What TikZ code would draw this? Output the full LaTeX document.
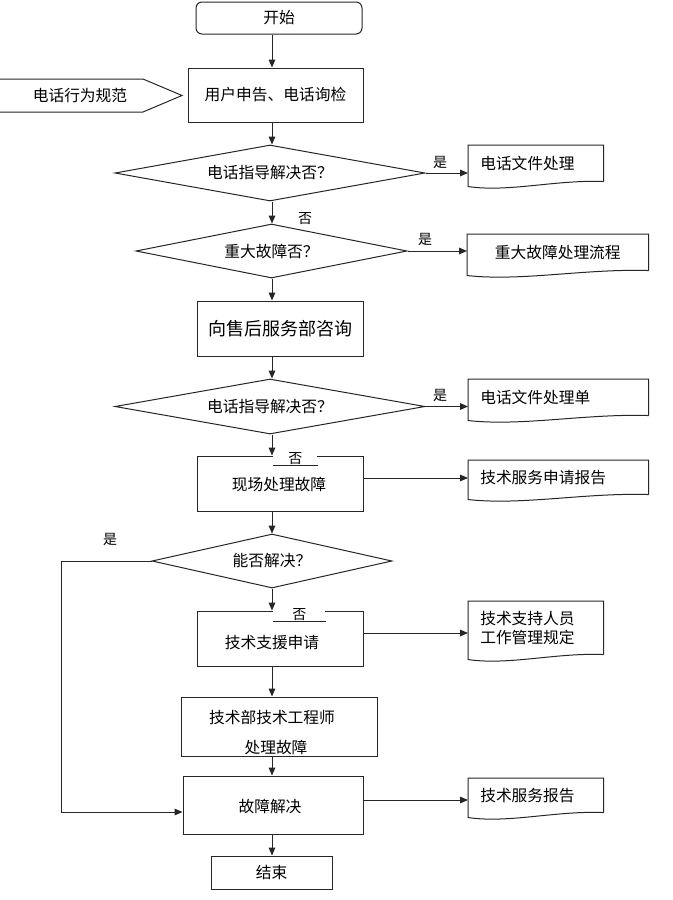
\documentclass[tikz,border=0pt]{standalone}
\usepackage{fontspec}
\newfontfamily\cjk{Noto Sans CJK SC}
\usetikzlibrary{shapes.geometric,arrows.meta,calc}
\newcommand\docoutline[1]{%
  \draw[ln] (#1.south east) -- (#1.north east) -- (#1.north west) -- ($(#1.south west)+(0,5)$)
    .. controls ($(#1.south west)!0.3!(#1.south east)+(0,11)$) and ($(#1.south west)!0.65!(#1.south east)+(0,-2)$) .. (#1.south east);}
\begin{document}
\begin{tikzpicture}[x=0.75pt,y=-0.75pt,
  every node/.style={font=\cjk\fontsize{11.8pt}{14pt}\selectfont, inner sep=0pt, text=black},
  ln/.style={draw=black!85, line width=0.75pt},
  procbox/.style={ln, rectangle},
  decbox/.style={ln, diamond},
  arr/.style={line width=0.75pt, draw=black!85, -{Triangle[length=6pt,width=5pt]}},
  wire/.style={line width=0.75pt, draw=black!85},
  lbl/.style={font=\cjk\fontsize{10.5pt}{12pt}\selectfont},
  docbox/.style={rectangle, anchor=north west, inner xsep=9pt, inner ysep=0pt, align=left}
]
\useasboundingbox (0,0) rectangle (672,900);
\coordinate (colx) at (272,0);
\coordinate (fbx) at (61,0);

% main column
\node[procbox, rounded corners=4.5pt, minimum width=166*0.75pt, minimum height=32*0.75pt] (start) at (279,18) {开始};
\node[procbox, minimum width=175*0.75pt, minimum height=54*0.75pt] (b1) at (275.5,95) {用户申告、电话询检};
\draw[ln] (0,79) -- (143,79) -- (182,95.5) -- (143,112) -- (0,112);
\node (pent) at (80,96) {电话行为规范};
\node[decbox, aspect=5.5, minimum width=310*0.75pt, minimum height=56*0.75pt] (d1) at (270,173) {电话指导解决否？};
\node[decbox, aspect=5, minimum width=271*0.75pt, minimum height=54*0.75pt] (d2) at (271.5,251) {重大故障否？};
\node[procbox, minimum width=166*0.75pt, minimum height=55*0.75pt, font=\cjk\fontsize{13.5pt}{16pt}\selectfont] (b2) at (280,328.5) {向售后服务部咨询};
\node[decbox, aspect=5.6, minimum width=310*0.75pt, minimum height=55*0.75pt] (d3) at (270,406.5) {电话指导解决否？};
\node[procbox, minimum width=166*0.75pt, minimum height=55*0.75pt] (b3) at (280,483.5) {};
\node (b3t) at (279,485) {现场处理故障};
\node[decbox, aspect=4.4, minimum width=240*0.75pt, minimum height=54*0.75pt] (d4) at (272,561) {能否解决？};
\node[procbox, minimum width=166*0.75pt, minimum height=55*0.75pt] (b4) at (280,638.5) {};
\node (b4t) at (272,643) {技术支援申请};
\node[procbox, minimum width=196*0.75pt, minimum height=59*0.75pt] (b5) at (279,726.5) {};
\node (b5a) at (272,717) {技术部技术工程师};
\node (b5b) at (276,747) {处理故障};
\node[procbox, minimum width=180*0.75pt, minimum height=58*0.75pt] (b6) at (273,805) {};
\node (b6t) at (270,807) {故障解决};
\node[procbox, minimum width=121*0.75pt, minimum height=33*0.75pt] (stop) at (271.5,872.5) {结束};

% documents
\node[docbox, text width=111*0.75pt, minimum height=36*0.75pt] (doc1) at (468,145) {电话文件处理};
\node[docbox, text width=157*0.75pt, minimum height=36*0.75pt, align=center] (doc2) at (467,234) {重大故障处理流程};
\node[docbox, text width=156*0.75pt, minimum height=36*0.75pt] (doc3) at (468,379) {电话文件处理单};
\node[docbox, text width=156*0.75pt, minimum height=34*0.75pt] (doc4) at (468,460) {技术服务申请报告};
\node[docbox, text width=111*0.75pt, minimum height=53*0.75pt] (doc5) at (468,601) {技术支持人员\\工作管理规定};
\node[docbox, text width=111*0.75pt, minimum height=34*0.75pt] (doc6) at (468,778) {技术服务报告};
\docoutline{doc1}
\docoutline{doc2}
\docoutline{doc3}
\docoutline{doc4}
\docoutline{doc5}
\docoutline{doc6}

% labels
\node[lbl] (y1) at (440,162) {是};
\node[lbl] (n1) at (305,219) {否};
\node[lbl] (y2) at (425,239) {是};
\node[lbl] (y3) at (440,395) {是};
\node[lbl, fill=white, minimum width=44*0.75pt, minimum height=13*0.75pt, anchor=south west] (n3) at (273,465) {否};
\draw[wire] (n3.south west) -- (n3.south east);
\node[lbl] (y4) at (110,539) {是};
\node[lbl, fill=white, minimum width=52*0.75pt, minimum height=13*0.75pt, anchor=south west] (n4) at (273,621) {否};
\draw[wire] (n4.south west) -- (n4.south east);

% vertical connectors
\draw[arr] (start.south -| colx) -- (b1.north -| colx);
\draw[arr] (b1.south -| colx) -- (d1.north -| colx);
\draw[arr] (d1.south -| colx) -- (d2.north -| colx);
\draw[arr] (d2.south -| colx) -- (b2.north -| colx);
\draw[arr] (b2.south -| colx) -- (d3.north -| colx);
\draw[arr] (d3.south -| colx) -- (b3.north -| colx);
\draw[arr] (b3.south -| colx) -- (d4.north -| colx);
\draw[arr] (d4.south -| colx) -- (b4.north -| colx);
\draw[arr] (b4.south -| colx) -- (b5.north -| colx);
\draw[arr] (b5.south -| colx) -- (b6.north -| colx);
\draw[arr] (b6.south -| colx) -- (stop.north -| colx);

% side connectors
\draw[arr] (d1.east) -- (d1.east -| doc1.west);
\draw[arr] (d2.east) -- (d2.east -| doc2.west);
\draw[arr] (d3.east) -- (d3.east -| doc3.west);
\coordinate (b3r) at ($(b3.east)+(0,-5.5)$);
\draw[arr] (b3r) -- (b3r -| doc4.west);
\coordinate (b4r) at ($(b4.east)+(0,-5.5)$);
\draw[arr] (b4r) -- (b4r -| doc5.west);
\coordinate (b6r) at ($(b6.east)+(0,-5)$);
\draw[arr] (b6r) -- (b6r -| doc6.west);
\coordinate (b6l) at ($(b6.west)+(0,7)$);
\draw[arr] (d4.west) -- (d4.west -| fbx) -- (b6l -| fbx) -- (b6l);
\end{tikzpicture}
\end{document}
